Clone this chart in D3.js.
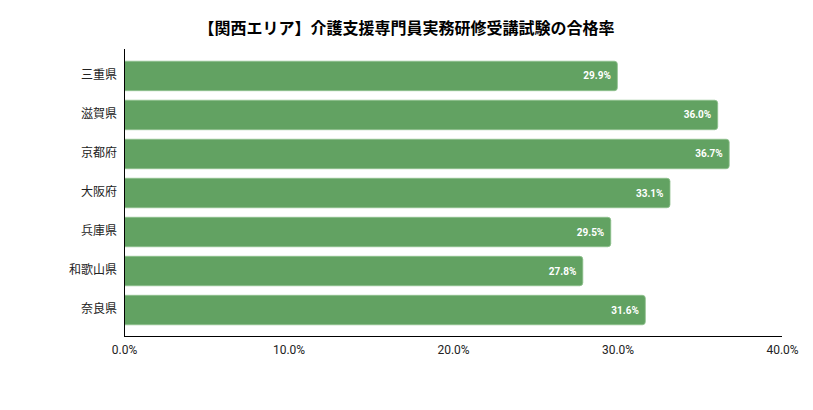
<!DOCTYPE html>
<html>
<head>
<meta charset="utf-8">
<script src="https://cdn.jsdelivr.net/npm/d3@7"></script>
<style>
  body { margin: 0; background: #fff; }
  svg text { font-family: Roboto, "Noto Sans CJK JP", sans-serif; }
</style>
</head>
<body>
<div id="viz"></div>
<script>
const title = "【関西エリア】介護支援専門員実務研修受講試験の合格率";
const prefectures = ["三重県", "滋賀県", "京都府", "大阪府", "兵庫県", "和歌山県", "奈良県"];
const passRates = [29.9, 36.0, 36.7, 33.1, 29.5, 27.8, 31.6];
const xTicks = [0, 10, 20, 30, 40];

const fullWidth = 813;
const fullHeight = 410;
const margin = { top: 49, left: 124, right: 31, bottom: 74 };
const width = fullWidth - margin.left - margin.right;
const height = fullHeight - margin.top - margin.bottom;

const svg = d3.select("#viz").append("svg")
    .attr("width", fullWidth)
    .attr("height", fullHeight);

svg.append("text")
    .attr("x", fullWidth / 2)
    .attr("y", 34)
    .attr("text-anchor", "middle")
    .style("font-size", "16px")
    .style("font-weight", "bold")
    .attr("fill", "#000")
    .text(title);

const g = svg.append("g")
    .attr("transform", "translate(" + margin.left + "," + margin.top + ")");

const xScale = d3.scaleLinear().domain([0, 40]).range([0, width]);
const yScale = d3.scaleBand()
    .domain(prefectures)
    .range([0, height])
    .paddingInner(0.244)
    .paddingOuter(0.3);

// bars: square on the left, rounded on the right
const r = 3;
const barPath = function(d, i) {
    const x0 = xScale(0) + 0.5;
    const x1 = xScale(d) + 1.5;
    const y0 = yScale(prefectures[i]) + 0.5;
    const y1 = y0 + yScale.bandwidth();
    return "M" + x0 + "," + y0 +
        "H" + (x1 - r) +
        "Q" + x1 + "," + y0 + " " + x1 + "," + (y0 + r) +
        "V" + (y1 - r) +
        "Q" + x1 + "," + y1 + " " + (x1 - r) + "," + y1 +
        "H" + x0 + "Z";
};

g.selectAll("path.bar")
    .data(passRates)
    .enter().append("path")
    .attr("class", "bar")
    .attr("d", barPath)
    .attr("fill", "#62a262")
    .attr("stroke", "#8ec08d")
    .attr("stroke-width", 0.8);

g.selectAll("text.value")
    .data(passRates)
    .enter().append("text")
    .attr("class", "value")
    .attr("x", d => xScale(d) - 5)
    .attr("y", (d, i) => yScale(prefectures[i]) + yScale.bandwidth() / 2 + 0.5)
    .attr("dy", "0.35em")
    .attr("text-anchor", "end")
    .attr("fill", "#fff")
    .style("font-size", "10px")
    .style("font-weight", "bold")
    .text(d => d.toFixed(1) + "%");

// y axis
const yAxis = d3.axisLeft(yScale).tickSize(0).tickPadding(7);
const yG = g.append("g").call(yAxis);
yG.select(".domain").attr("stroke", "#000").attr("d", "M0.5,0V" + height);
yG.selectAll("text").style("font-size", "12px").attr("fill", "#222");

// x axis
const xAxis = d3.axisBottom(xScale)
    .tickValues(xTicks)
    .tickSize(0)
    .tickPadding(9)
    .tickFormat(d => d.toFixed(1) + "%");
const xG = g.append("g")
    .attr("transform", "translate(0," + height + ")")
    .call(xAxis);
xG.select(".domain").attr("stroke", "#000").attr("d", "M0,0.5H" + width);
xG.selectAll("text").style("font-size", "12px").attr("fill", "#222");
</script>
</body>
</html>
